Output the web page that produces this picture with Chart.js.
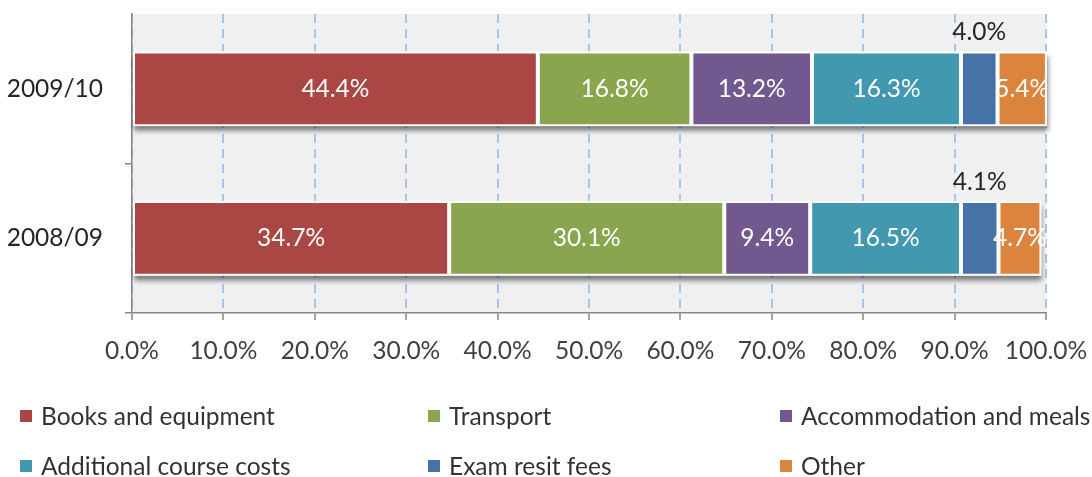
<!DOCTYPE html>
<html><head><meta charset="utf-8">
<script src="https://cdn.jsdelivr.net/npm/chart.js@4.4.1/dist/chart.umd.min.js"></script>
<style>
html,body{margin:0;padding:0;background:#fff;}
#wrap{position:relative;width:1092px;height:477px;overflow:hidden;}
#c{position:absolute;left:0;top:0;}
.lg{position:absolute;font-family:Lato,"Open Sans",sans-serif;font-size:24.5px;color:#333;line-height:30px;white-space:nowrap;padding-left:21px;}
.lg i{position:absolute;left:0;top:9px;width:12px;height:12px;}
</style></head>
<body>
<div id="wrap">
<canvas id="c" width="1092" height="477"></canvas>
<div id="legend"></div>
</div>
<script>
const categories = ['2009/10', '2008/09'];
const seriesNames = ['Books and equipment', 'Transport', 'Accommodation and meals', 'Additional course costs', 'Exam resit fees', 'Other'];
const booksAndEquipment = [44.4, 34.7];
const transport = [16.8, 30.1];
const accommodationAndMeals = [13.2, 9.4];
const additionalCourseCosts = [16.3, 16.5];
const examResitFees = [4.0, 4.1];
const other = [5.4, 4.7];
const xTickValues = [0, 10, 20, 30, 40, 50, 60, 70, 80, 90, 100];

const seriesValues = [booksAndEquipment, transport, accommodationAndMeals, additionalCourseCosts, examResitFees, other];
const colors = ['#AA4643', '#89A54E', '#71588F', '#4198AF', '#4572A7', '#DB843D'];
const FONT = 'Lato, "Open Sans", sans-serif';
const FS = 24.5;

const bgPlugin = {
  id: 'bg',
  beforeDraw(chart) {
    const {ctx, chartArea: a} = chart;
    ctx.save();
    ctx.fillStyle = '#F0F0F0';
    ctx.fillRect(a.left, a.top, a.right - a.left, a.bottom - a.top);
    ctx.restore();
  }
};

const shadowPlugin = {
  id: 'shadow',
  beforeDatasetsDraw(chart) {
    const ctx = chart.ctx;
    const n = chart.data.labels.length;
    ctx.save();
    ctx.shadowColor = 'rgba(0,0,0,0.5)';
    ctx.shadowBlur = 5;
    ctx.shadowOffsetY = 5;
    ctx.shadowOffsetX = 1;
    ctx.fillStyle = '#ffffff';
    for (let i = 0; i < n; i++) {
      let minX = Infinity, maxX = -Infinity, top = 0, h = 0;
      chart.data.datasets.forEach((ds, di) => {
        const el = chart.getDatasetMeta(di).data[i];
        const p = el.getProps(['x', 'y', 'base', 'height'], true);
        minX = Math.min(minX, p.base, p.x);
        maxX = Math.max(maxX, p.base, p.x);
        top = p.y - p.height / 2; h = p.height;
      });
      ctx.fillRect(minX, top, maxX - minX, h);
    }
    ctx.restore();
  }
};

const labelPlugin = {
  id: 'labels',
  afterDatasetsDraw(chart) {
    const {ctx, chartArea: a} = chart;
    ctx.save();
    ctx.beginPath();
    ctx.rect(a.left, 0, a.right - a.left, a.bottom);
    ctx.clip();
    ctx.textAlign = 'center';
    ctx.textBaseline = 'middle';
    chart.data.datasets.forEach((ds, di) => {
      chart.getDatasetMeta(di).data.forEach((el, i) => {
        const p = el.getProps(['x', 'y', 'base', 'height'], true);
        const txt = ds.data[i].toFixed(1) + '%';
        const cx = (p.x + p.base) / 2;
        ctx.font = FS + 'px ' + FONT;
        if (di === 4) {
          ctx.fillStyle = '#262626';
          ctx.fillText(txt, cx, p.y - p.height / 2 - 19);
        } else {
          ctx.fillStyle = '#ffffff';
          ctx.fillText(txt, cx, p.y);
        }
      });
    });
    ctx.restore();
  }
};

new Chart(document.getElementById('c'), {
  type: 'bar',
  data: {
    labels: categories,
    datasets: seriesNames.map((name, k) => ({
      label: name,
      data: seriesValues[k],
      backgroundColor: colors[k],
      borderColor: '#ffffff',
      borderWidth: 2,
      borderSkipped: false,
      categoryPercentage: 1.0,
      barPercentage: 0.5
    }))
  },
  options: {
    indexAxis: 'y',
    responsive: false,
    animation: false,
    layout: {padding: {left: 0, right: 46, top: 14, bottom: 0}},
    plugins: {legend: {display: false}, tooltip: {enabled: false}},
    scales: {
      x: {
        stacked: true,
        min: 0, max: 100,
        afterBuildTicks(s) { s.ticks = xTickValues.map(v => ({value: v})); },
        afterFit(s) { s.height = 164; s.paddingLeft = 0; s.paddingRight = 0; s.paddingTop = 0; s.paddingBottom = 0; },
        ticks: {
          callback: v => Number(v).toFixed(1) + '%',
          color: '#404040',
          font: {family: FONT, size: FS},
          padding: 16,
          maxRotation: 0,
          autoSkip: false
        },
        grid: {
          color: '#A7C5EC',
          lineWidth: 2,
          drawTicks: true,
          tickLength: 7,
          tickColor: '#868686',
          tickWidth: 1.5,
          tickBorderDash: []
        },
        border: {display: true, color: '#868686', width: 1.5, dash: [9, 6]}
      },
      y: {
        stacked: true,
        afterFit(s) { s.width = 132; s.paddingLeft = 0; s.paddingRight = 0; s.paddingTop = 0; s.paddingBottom = 0; },
        ticks: {
          color: '#262626',
          font: {family: FONT, size: FS},
          padding: 22
        },
        grid: {
          offset: true,
          drawOnChartArea: false,
          drawTicks: true,
          tickLength: 7,
          color: '#868686',
          tickColor: c => (c.index === 0 ? 'rgba(0,0,0,0)' : '#868686'),
          tickWidth: 1.5,
          lineWidth: 1.5
        },
        border: {display: true, color: '#868686', width: 1.5}
      }
    }
  },
  plugins: [bgPlugin, shadowPlugin, labelPlugin]
});

const legendPos = [[20, 401], [428, 401], [780, 401], [20, 451], [428, 451], [780, 451]];
const lg = document.getElementById('legend');
seriesNames.forEach((name, k) => {
  const d = document.createElement('div');
  d.className = 'lg';
  d.style.left = legendPos[k][0] + 'px';
  d.style.top = legendPos[k][1] + 'px';
  d.innerHTML = '<i style="background:' + colors[k] + '"></i>';
  d.appendChild(document.createTextNode(name));
  lg.appendChild(d);
});
</script>
</body></html>
